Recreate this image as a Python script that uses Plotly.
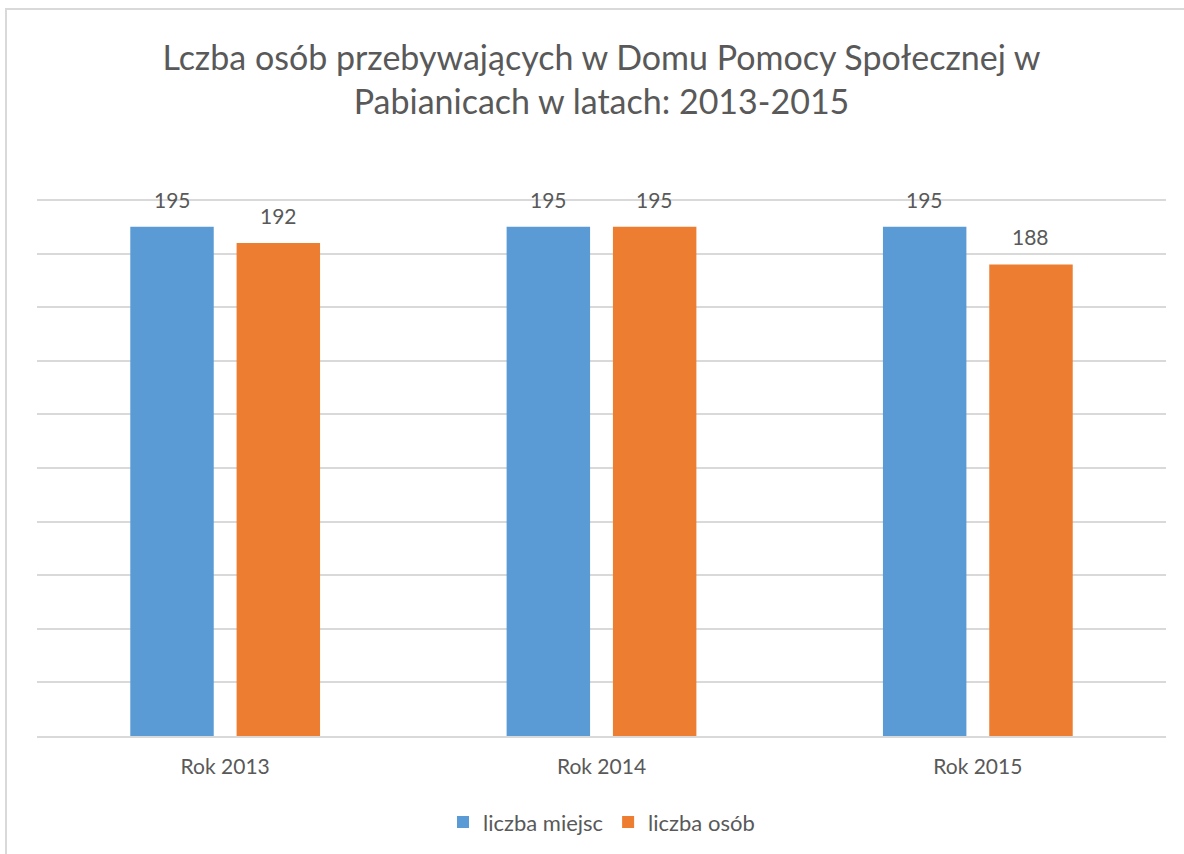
import plotly.graph_objects as go

categories = ["Rok 2013", "Rok 2014", "Rok 2015"]
miejsca = [195, 195, 195]
osoby = [192, 195, 188]
series_names = ["liczba miejsc", "liczba osób"]
title_text = "Lczba osób przebywających w Domu Pomocy Społecznej w<br>Pabianicach w latach: 2013-2015"

FONT = "Lato"
TXT = "#595959"
W, H = 1184, 854
L, R, T, B = 37, 18, 200, 117
BARGAP, GROUPGAP = 0.435, 0.215

pw = W - L - R
ph = H - T - B
slot = (1 - BARGAP) * (pw / len(categories)) / 2

fig = go.Figure()
fig.add_trace(go.Bar(x=categories, y=miejsca, name=series_names[0],
                     marker=dict(color="#5B9BD5", line=dict(width=0))))
fig.add_trace(go.Bar(x=categories, y=osoby, name=series_names[1],
                     marker=dict(color="#ED7D31", line=dict(width=0))))

annotations = []
for vals, sh in ((miejsca, -slot / 2), (osoby, slot / 2)):
    for c, v in zip(categories, vals):
        annotations.append(dict(x=c, y=v, xref="x", yref="y", text=str(v), showarrow=False,
                                xshift=sh, yshift=13, yanchor="bottom",
                                font=dict(family=FONT, size=21, color=TXT)))

ymax = 200.2
bx = (6 - L) / pw
by = (H - B - 10) / ph

fig.update_layout(
    width=W, height=H,
    margin=dict(l=L, r=R, t=T - 1, b=B),
    paper_bgcolor="white", plot_bgcolor="white",
    barmode="group", bargap=BARGAP, bargroupgap=GROUPGAP,
    font=dict(family=FONT, color=TXT),
    title=dict(text=title_text, x=601.5 / W, xanchor="center",
               y=1 - 70 / H, yanchor="middle", yref="container",
               font=dict(family=FONT, size=34, color=TXT)),
    xaxis=dict(showgrid=False, showline=True, linecolor="#d9d9d9", linewidth=2,
               ticks="", ticklabelstandoff=11,
               tickfont=dict(family=FONT, size=21, color=TXT)),
    yaxis=dict(range=[100, ymax], tick0=100, dtick=10, showgrid=True, gridcolor="#d9d9d9",
               gridwidth=1.5, showticklabels=False, zeroline=False, ticks=""),
    legend=dict(orientation="h", x=0.5, xanchor="center", y=(H - B - 822) / ph,
                yanchor="middle", font=dict(family=FONT, size=22, color=TXT),
                itemwidth=30, tracegroupgap=0),
    showlegend=True,
    annotations=annotations,
    shapes=[dict(type="rect", xref="paper", yref="paper", x0=bx, x1=1.2, y0=-0.5, y1=by,
                 line=dict(color="#d9d9d9", width=2), layer="below")],
)

fig.write_html("out.html", config={"displayModeBar": False},
               post_script="document.body.style.margin='0';")
